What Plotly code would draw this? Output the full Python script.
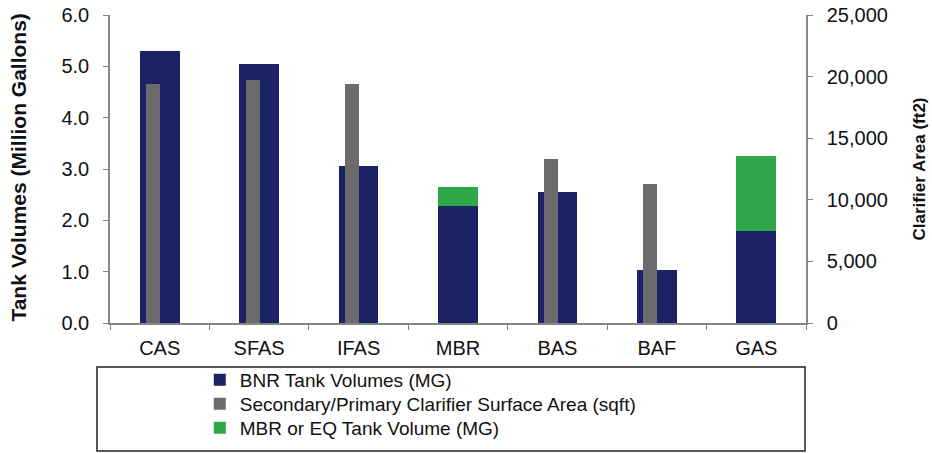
import plotly.graph_objects as go

# Treatment processes compared
categories = ["CAS", "SFAS", "IFAS", "MBR", "BAS", "BAF", "GAS"]

# BNR tank volumes (million gallons)
bnr_volume = [5.30, 5.05, 3.05, 2.27, 2.55, 1.04, 1.79]
# MBR or EQ tank volume stacked on top (million gallons)
mbr_eq_volume = [0, 0, 0, 0.38, 0, 0, 1.46]
# Secondary/primary clarifier surface area (sqft)
clarifier_area = [19400, 19700, 19400, 0, 13300, 11250, 0]

left_ticks = [0, 1, 2, 3, 4, 5, 6]
left_tick_text = ["0.0", "1.0", "2.0", "3.0", "4.0", "5.0", "6.0"]
right_ticks = [0, 5000, 10000, 15000, 20000, 25000]
right_tick_text = ["0", "5,000", "10,000", "15,000", "20,000", "25,000"]

NAVY = "#1b2366"
GRAY = "#6b6b6b"
GREEN = "#2fa84a"
AXIS = "#868686"
TEXT = "#111111"
FONT = "Liberation Sans, Arial, sans-serif"

fig = go.Figure()
fig.add_trace(go.Bar(
    x=categories, y=bnr_volume, name="BNR Tank Volumes (MG)",
    marker=dict(color=NAVY, line=dict(width=0)), width=0.4, yaxis="y",
    legend="legend",
))
fig.add_trace(go.Bar(
    x=categories, y=clarifier_area,
    name="Secondary/Primary Clarifier Surface Area (sqft)",
    marker=dict(color=GRAY, line=dict(width=0)), width=0.14, offset=-0.135,
    yaxis="y2", legend="legend2",
))
fig.add_trace(go.Bar(
    x=categories, y=mbr_eq_volume, name="MBR or EQ Tank Volume (MG)",
    marker=dict(color=GREEN, line=dict(width=0)), width=0.4, yaxis="y",
    legend="legend3",
))

tick_font = dict(family=FONT, size=20, color=TEXT)


def legend_row(y_top):
    # one legend row, stacked beneath the chart inside the frame
    return dict(
        orientation="v", x=0.129, y=y_top, xanchor="left", yanchor="top",
        font=dict(family=FONT, size=19, color=TEXT),
        bgcolor="rgba(0,0,0,0)", borderwidth=0,
    )


fig.update_layout(
    width=932, height=453,
    margin=dict(l=110, r=126, t=15, b=130, autoexpand=False),
    paper_bgcolor="white", plot_bgcolor="white",
    barmode="stack",
    font=dict(family=FONT, size=20, color=TEXT),
    showlegend=True,
    legend=legend_row(-0.1234),
    legend2=legend_row(-0.2013),
    legend3=legend_row(-0.2792),
    xaxis=dict(
        type="category", showline=True, linecolor=AXIS, linewidth=1.5,
        ticks="outside", tickson="boundaries", ticklen=5, tickcolor=AXIS,
        showgrid=False, zeroline=False, tickfont=tick_font,
        ticklabelstandoff=6,
    ),
    yaxis=dict(
        range=[0, 6], tickvals=left_ticks, ticktext=left_tick_text,
        showline=True, linecolor=AXIS, linewidth=1.5,
        ticks="outside", ticklen=5, tickcolor=AXIS,
        showgrid=False, zeroline=False, tickfont=tick_font,
        ticklabelstandoff=10,
    ),
    yaxis2=dict(
        range=[0, 25000], tickvals=right_ticks, ticktext=right_tick_text,
        overlaying="y", side="right",
        showline=True, linecolor=AXIS, linewidth=1.5,
        ticks="outside", ticklen=5, tickcolor=AXIS,
        showgrid=False, zeroline=False, tickfont=tick_font,
        ticklabelstandoff=10,
    ),
)

# Axis titles
fig.add_annotation(
    text="<b>Tank Volumes (Million Gallons)</b>", textangle=-90,
    xref="paper", yref="paper", x=-0.132, y=0.505,
    xanchor="center", yanchor="middle", showarrow=False,
    font=dict(family=FONT, size=21, color=TEXT),
)
fig.add_annotation(
    text="<b>Clarifier Area (ft2)</b>", textangle=-90,
    xref="paper", yref="paper", x=1.163, y=0.5,
    xanchor="center", yanchor="middle", showarrow=False,
    font=dict(family=FONT, size=17, color=TEXT),
)

# Legend frame
fig.add_shape(
    type="rect", xref="paper", yref="paper",
    x0=-0.0187, x1=0.9986, y0=-0.4156, y1=-0.1429,
    line=dict(color="#222222", width=1.5), fillcolor="rgba(0,0,0,0)",
)

fig.write_html("out.html")
